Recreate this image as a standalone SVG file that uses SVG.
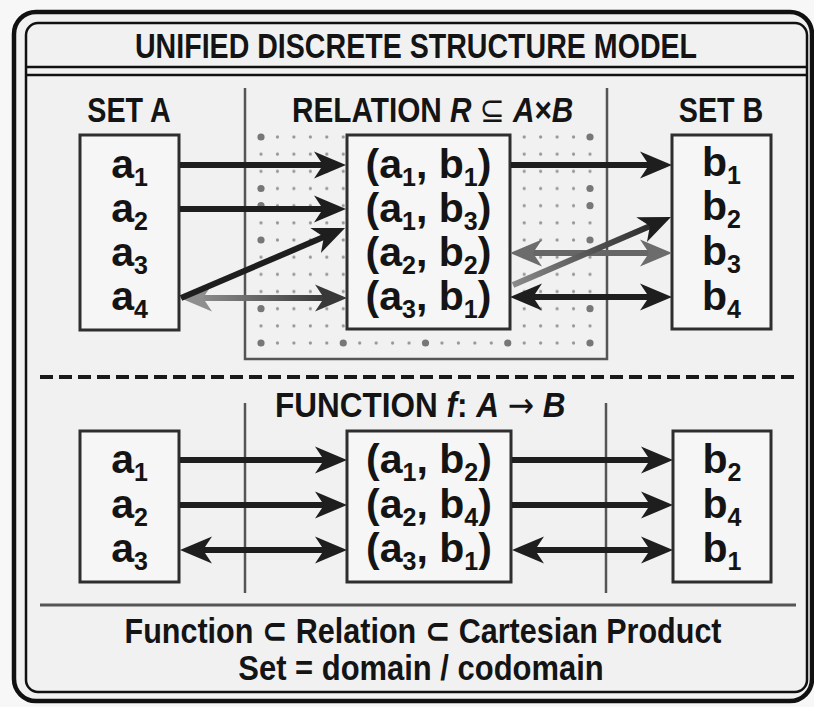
<svg xmlns="http://www.w3.org/2000/svg" width="814" height="707" viewBox="0 0 814 707">
<style>
.t{font-family:"Liberation Sans",Arial,"DejaVu Sans",sans-serif;font-weight:bold;fill:#141414}
.hd{font-size:35px}
.lbl{font-size:41px;text-anchor:middle}
.sub{font-size:25px}
.box{fill:#f6f6f6;stroke:#2e2e2e;stroke-width:3}
.sep{stroke:#555;stroke-width:2.5;fill:none}
.ln{fill:none;stroke-width:6}
.dk{stroke:#1e1e1e}
.it{font-style:italic}
.sym{font-family:"DejaVu Sans",sans-serif;font-weight:normal}
</style>
<defs>
<marker id="mD" markerUnits="userSpaceOnUse" viewBox="-34 -15 34 30" markerWidth="34" markerHeight="30" refX="-22" refY="0" orient="auto-start-reverse"><path d="M0,0 L-32,-13.5 L-23,0 L-32,13.5 Z" fill="#1e1e1e"/></marker>
<marker id="mG" markerUnits="userSpaceOnUse" viewBox="-34 -15 34 30" markerWidth="34" markerHeight="30" refX="-22" refY="0" orient="auto-start-reverse"><path d="M0,0 L-32,-13.5 L-23,0 L-32,13.5 Z" fill="#6c6c6c"/></marker>
<marker id="mL" markerUnits="userSpaceOnUse" viewBox="-34 -15 34 30" markerWidth="34" markerHeight="30" refX="-22" refY="0" orient="auto-start-reverse"><path d="M0,0 L-32,-13.5 L-23,0 L-32,13.5 Z" fill="#8e8e8e"/></marker>
<marker id="mM" markerUnits="userSpaceOnUse" viewBox="-34 -15 34 30" markerWidth="34" markerHeight="30" refX="-22" refY="0" orient="auto-start-reverse"><path d="M0,0 L-32,-13.5 L-23,0 L-32,13.5 Z" fill="#383838"/></marker>
<pattern id="dots" patternUnits="userSpaceOnUse" x="252.775" y="128.415" width="16.45" height="17.17"><circle cx="8.225" cy="8.585" r="1.6" fill="#959595"/></pattern>
<linearGradient id="g1" gradientUnits="userSpaceOnUse" x1="180" y1="0" x2="347" y2="0"><stop offset="0" stop-color="#9a9a9a"/><stop offset="1" stop-color="#2a2a2a"/></linearGradient>
<linearGradient id="g2" gradientUnits="userSpaceOnUse" x1="513" y1="285" x2="671" y2="217"><stop offset="0" stop-color="#8a8a8a"/><stop offset="1" stop-color="#1e1e1e"/></linearGradient>
</defs>
<rect x="0" y="0" width="814" height="707" fill="#f7f7f7"/>
<g id="frame">
<rect x="14" y="12" width="798" height="689" rx="22" fill="#f1f1f1" stroke="#111" stroke-width="4.5"/>
<rect x="26" y="23" width="781" height="669" rx="12" fill="none" stroke="#111" stroke-width="2.5"/>
<line x1="26" y1="67" x2="807" y2="67" stroke="#111" stroke-width="2.5"/>
<line x1="26" y1="75" x2="807" y2="75" stroke="#111" stroke-width="2.5"/>
</g>
<g id="title"><text class="t" font-size="36" text-anchor="middle" transform="translate(416,58) scale(0.794,1)">UNIFIED DISCRETE STRUCTURE MODEL</text></g>
<g id="relation-area">
<rect x="252.775" y="128.415" width="345.45" height="223.21" fill="url(#dots)"/>
<g fill="#777">
<circle cx="261" cy="137" r="3.6"/><circle cx="261" cy="188.5" r="3.6"/><circle cx="261" cy="205.7" r="3.6"/><circle cx="261" cy="240" r="3.6"/><circle cx="261" cy="308.7" r="3.6"/><circle cx="261" cy="343" r="3.6"/>
<circle cx="590" cy="137" r="3.6"/><circle cx="590" cy="188.5" r="3.6"/><circle cx="590" cy="205.7" r="3.6"/><circle cx="590" cy="240" r="3.6"/><circle cx="590" cy="308.7" r="3.6"/><circle cx="590" cy="343" r="3.6"/>
<circle cx="343.25" cy="343" r="3.6"/><circle cx="425.5" cy="343" r="3.6"/><circle cx="507.75" cy="343" r="3.6"/>
</g>
<path class="sep" d="M245,88 V359 H607 V88"/>
</g>
<g id="function-area">
<line class="sep" x1="245" y1="403" x2="245" y2="593"/>
<line class="sep" x1="606" y1="403" x2="606" y2="593"/>
</g>
<g id="dividers">
<line x1="40" y1="377" x2="797" y2="377" stroke="#1a1a1a" stroke-width="4" stroke-dasharray="13 6"/>
<line x1="40" y1="605" x2="796" y2="605" stroke="#555" stroke-width="3"/>
</g>
<g id="headers">
<text class="t hd" text-anchor="middle" transform="translate(129,122) scale(0.82,1)">SET A</text>
<text class="t hd" text-anchor="middle" transform="translate(721,122) scale(0.82,1)">SET B</text>
<text class="t hd" transform="translate(292,122) scale(0.85,1)">RELATION <tspan class="it">R</tspan> <tspan class="sym">⊆</tspan> <tspan class="it">A</tspan>×<tspan class="it">B</tspan></text>
<text class="t hd" transform="translate(275,417) scale(0.9,1)">FUNCTION <tspan class="it">f</tspan>: <tspan class="it">A</tspan> <tspan class="sym">→</tspan> <tspan class="it">B</tspan></text>
</g>
<g id="setA-rel">
<rect class="box" x="80" y="135" width="99" height="195"/>
<text class="t lbl" x="129.5" y="178">a<tspan class="sub" dy="8">1</tspan></text>
<text class="t lbl" x="129.5" y="222">a<tspan class="sub" dy="8">2</tspan></text>
<text class="t lbl" x="129.5" y="266">a<tspan class="sub" dy="8">3</tspan></text>
<text class="t lbl" x="129.5" y="310">a<tspan class="sub" dy="8">4</tspan></text>
</g>
<g id="relation-box">
<rect class="box" x="347" y="135" width="163" height="194"/>
<text class="t lbl" x="428.5" y="178">(a<tspan class="sub" dy="8">1</tspan><tspan dy="-8">, b</tspan><tspan class="sub" dy="8">1</tspan><tspan dy="-8">)</tspan></text>
<text class="t lbl" x="428.5" y="222">(a<tspan class="sub" dy="8">1</tspan><tspan dy="-8">, b</tspan><tspan class="sub" dy="8">3</tspan><tspan dy="-8">)</tspan></text>
<text class="t lbl" x="428.5" y="266">(a<tspan class="sub" dy="8">2</tspan><tspan dy="-8">, b</tspan><tspan class="sub" dy="8">2</tspan><tspan dy="-8">)</tspan></text>
<text class="t lbl" x="428.5" y="310">(a<tspan class="sub" dy="8">3</tspan><tspan dy="-8">, b</tspan><tspan class="sub" dy="8">1</tspan><tspan dy="-8">)</tspan></text>
</g>
<g id="setB-rel">
<rect class="box" x="672" y="135" width="99" height="194"/>
<text class="t lbl" x="721.5" y="176">b<tspan class="sub" dy="8">1</tspan></text>
<text class="t lbl" x="721.5" y="220">b<tspan class="sub" dy="8">2</tspan></text>
<text class="t lbl" x="721.5" y="265">b<tspan class="sub" dy="8">3</tspan></text>
<text class="t lbl" x="721.5" y="310">b<tspan class="sub" dy="8">4</tspan></text>
</g>
<g id="setA-fun">
<rect class="box" x="80" y="431" width="99" height="151"/>
<text class="t lbl" x="129.5" y="473">a<tspan class="sub" dy="8">1</tspan></text>
<text class="t lbl" x="129.5" y="518">a<tspan class="sub" dy="8">2</tspan></text>
<text class="t lbl" x="129.5" y="562">a<tspan class="sub" dy="8">3</tspan></text>
</g>
<g id="function-box">
<rect class="box" x="347" y="431" width="164" height="151"/>
<text class="t lbl" x="429" y="473">(a<tspan class="sub" dy="8">1</tspan><tspan dy="-8">, b</tspan><tspan class="sub" dy="8">2</tspan><tspan dy="-8">)</tspan></text>
<text class="t lbl" x="429" y="518">(a<tspan class="sub" dy="8">2</tspan><tspan dy="-8">, b</tspan><tspan class="sub" dy="8">4</tspan><tspan dy="-8">)</tspan></text>
<text class="t lbl" x="429" y="562">(a<tspan class="sub" dy="8">3</tspan><tspan dy="-8">, b</tspan><tspan class="sub" dy="8">1</tspan><tspan dy="-8">)</tspan></text>
</g>
<g id="setB-fun">
<rect class="box" x="673" y="431" width="98" height="151"/>
<text class="t lbl" x="722" y="473">b<tspan class="sub" dy="8">2</tspan></text>
<text class="t lbl" x="722" y="518">b<tspan class="sub" dy="8">4</tspan></text>
<text class="t lbl" x="722" y="562">b<tspan class="sub" dy="8">1</tspan></text>
</g>
<g id="connectors">
<line class="ln dk" x1="180" y1="165" x2="324" y2="165" marker-end="url(#mD)"/>
<line class="ln dk" x1="180" y1="209" x2="324" y2="209" marker-end="url(#mD)"/>
<line class="ln" stroke="url(#g1)" x1="202" y1="298" x2="325" y2="298" marker-start="url(#mL)" marker-end="url(#mM)"/>
<line class="ln dk" x1="181" y1="298" x2="324.8" y2="236.6" marker-end="url(#mD)"/>
<line class="ln dk" x1="511" y1="165" x2="650" y2="165" marker-end="url(#mD)"/>
<line class="ln" stroke="#666" stroke-width="5" x1="532" y1="253" x2="650" y2="253" marker-start="url(#mG)" marker-end="url(#mG)"/>
<line class="ln dk" x1="532" y1="297" x2="650" y2="297" marker-start="url(#mD)" marker-end="url(#mD)"/>
<line class="ln" stroke="url(#g2)" stroke-width="5" x1="513" y1="285" x2="650.8" y2="225.7" marker-end="url(#mD)"/>
<line class="ln dk" x1="180" y1="460" x2="325" y2="460" marker-end="url(#mD)"/>
<line class="ln dk" x1="180" y1="505" x2="325" y2="505" marker-end="url(#mD)"/>
<line class="ln dk" x1="202" y1="550" x2="325" y2="550" marker-start="url(#mD)" marker-end="url(#mD)"/>
<line class="ln dk" x1="512" y1="460" x2="651" y2="460" marker-end="url(#mD)"/>
<line class="ln dk" x1="512" y1="505" x2="651" y2="505" marker-end="url(#mD)"/>
<line class="ln dk" x1="534" y1="550" x2="651" y2="550" marker-start="url(#mD)" marker-end="url(#mD)"/>
</g>
<g id="footer">
<text class="t" font-size="36" text-anchor="middle" transform="translate(423,643) scale(0.848,1)">Function ⊂ Relation ⊂ Cartesian Product</text>
<text class="t" font-size="36" text-anchor="middle" transform="translate(421,680) scale(0.86,1)">Set = domain / codomain</text>
</g>
</svg>
